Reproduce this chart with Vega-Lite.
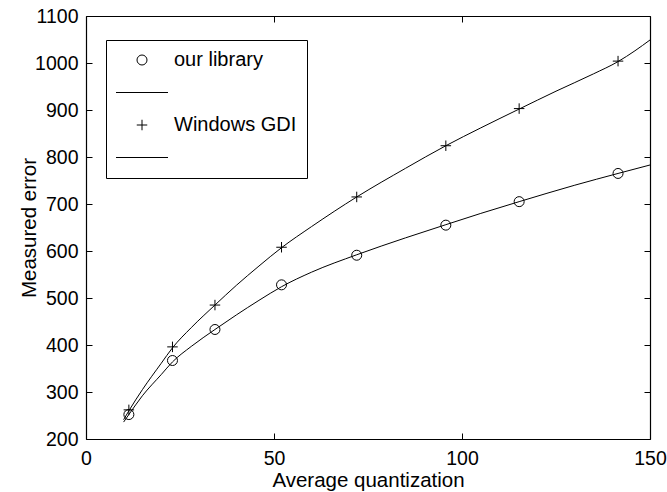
{
  "$schema": "https://vega.github.io/schema/vega-lite/v6.json",
  "width": 564,
  "height": 423,
  "autosize": {"type": "none"},
  "padding": {"left": 86, "top": 16, "right": 17, "bottom": 53},
  "background": "white",
  "config": {
    "view": {"stroke": null},
    "font": "Liberation Sans",
    "axis": {
      "grid": false,
      "domain": true,
      "domainColor": "black",
      "domainWidth": 1.2,
      "tickColor": "black",
      "tickWidth": 1,
      "tickSize": -6,
      "labelColor": "black",
      "labelFont": "Liberation Sans",
      "labelFontSize": 19.5,
      "labelFlush": false,
      "labelOverlap": false,
      "titleColor": "black",
      "titleFont": "Liberation Sans",
      "titleFontSize": 20.5,
      "titleFontWeight": "normal"
    }
  },
  "datasets": {
    "points": [
      {"series": "our library", "x": 11.4, "y": 252},
      {"series": "our library", "x": 23, "y": 367},
      {"series": "our library", "x": 34.3, "y": 433},
      {"series": "our library", "x": 52, "y": 528},
      {"series": "our library", "x": 72, "y": 591},
      {"series": "our library", "x": 95.7, "y": 655},
      {"series": "our library", "x": 115.2, "y": 705},
      {"series": "our library", "x": 141.5, "y": 765},
      {"series": "Windows GDI", "x": 11.4, "y": 262},
      {"series": "Windows GDI", "x": 23, "y": 396},
      {"series": "Windows GDI", "x": 34.3, "y": 485},
      {"series": "Windows GDI", "x": 52, "y": 608},
      {"series": "Windows GDI", "x": 72, "y": 715},
      {"series": "Windows GDI", "x": 95.7, "y": 824},
      {"series": "Windows GDI", "x": 115.2, "y": 903},
      {"series": "Windows GDI", "x": 141.5, "y": 1004}
    ],
    "curves": [
      {"series": "our library fit", "x": 10, "y": 236},
      {"series": "our library fit", "x": 11.4, "y": 252},
      {"series": "our library fit", "x": 15, "y": 292},
      {"series": "our library fit", "x": 20, "y": 337},
      {"series": "our library fit", "x": 23, "y": 364},
      {"series": "our library fit", "x": 28, "y": 397},
      {"series": "our library fit", "x": 34.3, "y": 433},
      {"series": "our library fit", "x": 40, "y": 464},
      {"series": "our library fit", "x": 46, "y": 495},
      {"series": "our library fit", "x": 52, "y": 524},
      {"series": "our library fit", "x": 60, "y": 555},
      {"series": "our library fit", "x": 72, "y": 592},
      {"series": "our library fit", "x": 85, "y": 628},
      {"series": "our library fit", "x": 95.7, "y": 656},
      {"series": "our library fit", "x": 105, "y": 680},
      {"series": "our library fit", "x": 115.2, "y": 705},
      {"series": "our library fit", "x": 130, "y": 740},
      {"series": "our library fit", "x": 141.5, "y": 765},
      {"series": "our library fit", "x": 150, "y": 783},
      {"series": "Windows GDI fit", "x": 10, "y": 241},
      {"series": "Windows GDI fit", "x": 11.4, "y": 260},
      {"series": "Windows GDI fit", "x": 15, "y": 305},
      {"series": "Windows GDI fit", "x": 20, "y": 361},
      {"series": "Windows GDI fit", "x": 23, "y": 394},
      {"series": "Windows GDI fit", "x": 28, "y": 437},
      {"series": "Windows GDI fit", "x": 34.3, "y": 485},
      {"series": "Windows GDI fit", "x": 40, "y": 527},
      {"series": "Windows GDI fit", "x": 46, "y": 568},
      {"series": "Windows GDI fit", "x": 52, "y": 607},
      {"series": "Windows GDI fit", "x": 60, "y": 652},
      {"series": "Windows GDI fit", "x": 72, "y": 715},
      {"series": "Windows GDI fit", "x": 85, "y": 776},
      {"series": "Windows GDI fit", "x": 95.7, "y": 824},
      {"series": "Windows GDI fit", "x": 105, "y": 862},
      {"series": "Windows GDI fit", "x": 115.2, "y": 902},
      {"series": "Windows GDI fit", "x": 125, "y": 940},
      {"series": "Windows GDI fit", "x": 135, "y": 977},
      {"series": "Windows GDI fit", "x": 141.5, "y": 1003},
      {"series": "Windows GDI fit", "x": 146, "y": 1026},
      {"series": "Windows GDI fit", "x": 150, "y": 1049}
    ]
  },
  "layer": [
    {
      "data": {"name": "curves"},
      "mark": {"type": "line", "color": "black", "strokeWidth": 1, "interpolate": "monotone"},
      "encoding": {
        "x": {
          "field": "x", "type": "quantitative",
          "scale": {"domain": [0, 150], "nice": false, "zero": false},
          "axis": {
            "orient": "bottom",
            "values": [0, 50, 100, 150],
            "format": "d",
            "labelBaseline": "alphabetic",
            "labelPadding": 31,
            "title": "Average quantization",
            "titleX": 282,
            "titleY": 47.5,
            "titleAlign": "center",
            "titleBaseline": "alphabetic"
          }
        },
        "y": {
          "field": "y", "type": "quantitative",
          "scale": {"domain": [200, 1100], "nice": false, "zero": false},
          "axis": {
            "orient": "left",
            "values": [200, 300, 400, 500, 600, 700, 800, 900, 1000, 1100],
            "format": "d",
            "labelPadding": 14,
            "labelBaseline": "middle",
            "title": "Measured error",
            "titleAngle": 270,
            "titleX": -51,
            "titleY": 211.5,
            "titleAlign": "center",
            "titleBaseline": "alphabetic"
          }
        },
        "detail": {"field": "series", "type": "nominal"}
      }
    },
    {
      "data": {"name": "points"},
      "mark": {"type": "point", "filled": false, "stroke": "black", "strokeWidth": 1, "size": 100, "opacity": 1},
      "encoding": {
        "x": {
          "field": "x", "type": "quantitative",
          "axis": {"orient": "top", "values": [0, 50, 100, 150], "labels": false, "title": null}
        },
        "y": {
          "field": "y", "type": "quantitative",
          "axis": {"orient": "right", "values": [200, 300, 400, 500, 600, 700, 800, 900, 1000, 1100], "labels": false, "title": null}
        },
        "shape": {
          "field": "series", "type": "nominal",
          "scale": {
            "domain": ["our library", "our library fit", "Windows GDI", "Windows GDI fit"],
            "range": ["circle", "M-5.2,0H5.2", "M-1.05,0H1.05M0,-1.05V1.05", "M-5.2,0H5.2"]
          },
          "legend": {
            "orient": "none",
            "legendX": 20,
            "legendY": 24,
            "title": null,
            "labelExpr": "indexof(datum.label, 'fit') >= 0 ? '' : datum.label",
            "labelFont": "Liberation Sans",
            "labelFontSize": 20,
            "labelColor": "black",
            "labelOffset": 22,
            "symbolOffset": 16,
            "padding": 10,
            "rowPadding": 12.5,
            "strokeColor": "black",
            "fillColor": "white",
            "symbolStrokeColor": "black",
            "symbolStrokeWidth": 1,
            "symbolFillColor": "transparent",
            "symbolSize": 100,
            "encode": {"legend": {"update": {"strokeWidth": {"value": 1.5}}}}
          }
        }
      }
    }
  ],
  "resolve": {"axis": {"x": "independent", "y": "independent"}}
}
